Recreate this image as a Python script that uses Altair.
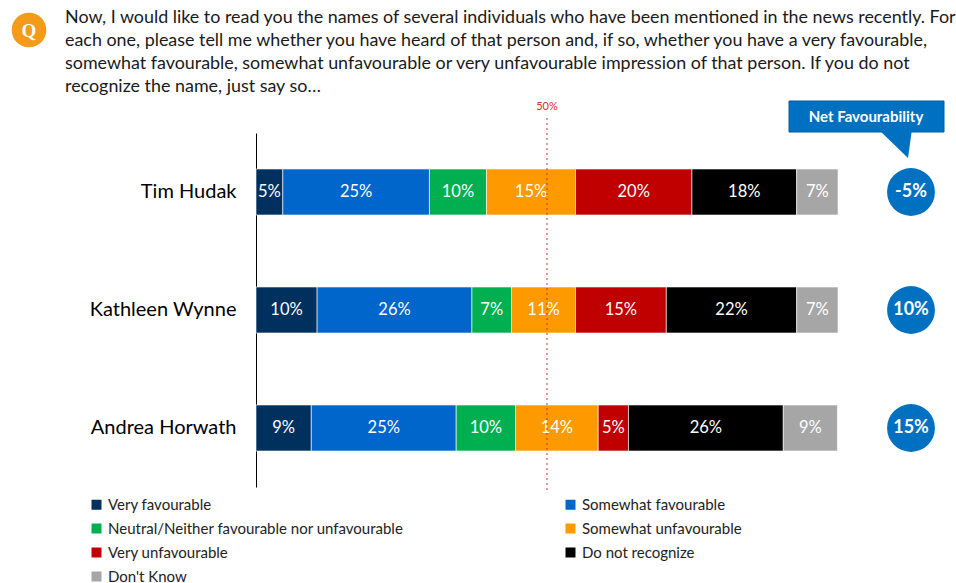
import altair as alt
import pandas as pd

NAMES = ["Tim Hudak", "Kathleen Wynne", "Andrea Horwath"]
CATEGORIES = [
    "Very favourable",
    "Somewhat favourable",
    "Neutral/Neither favourable nor unfavourable",
    "Somewhat unfavourable",
    "Very unfavourable",
    "Do not recognize",
    "Don't Know",
]
COLORS = ["#00305E", "#0066CC", "#00B050", "#FF9900", "#C00000", "#000000", "#A6A6A6"]

# segment widths (percent)
VALUES_HUDAK = [4.6, 25.2, 9.8, 15.3, 20.0, 18.0, 7.1]
VALUES_WYNNE = [10.5, 26.6, 6.8, 11.0, 15.6, 22.4, 7.1]
VALUES_HORWATH = [9.5, 24.9, 10.2, 14.2, 5.2, 26.6, 9.3]
# printed labels
LABELS_HUDAK = [5, 25, 10, 15, 20, 18, 7]
LABELS_WYNNE = [10, 26, 7, 11, 15, 22, 7]
LABELS_HORWATH = [9, 25, 10, 14, 5, 26, 9]

NET_FAV = [-5, 10, 15]

QUESTION = [
    "Now, I would like to read you the names of several individuals who have been mentioned in the news recently. For",
    "each one, please tell me whether you have heard of that person and, if so, whether you have a very favourable,",
    "somewhat favourable, somewhat unfavourable or very unfavourable impression of that person. If you do not",
    "recognize the name, just say so\u2026",
]

FONT = "Lato"
RED = "#E0282B"
BLUE = "#0070C0"

rows = []
for name, vals, labs in zip(NAMES, [VALUES_HUDAK, VALUES_WYNNE, VALUES_HORWATH],
                            [LABELS_HUDAK, LABELS_WYNNE, LABELS_HORWATH]):
    for i, (cat, v, lab) in enumerate(zip(CATEGORIES, vals, labs)):
        rows.append({"name": name, "category": cat, "order": i, "value": v, "label": f"{lab}%"})
df = pd.DataFrame(rows)

net_df = pd.DataFrame({"name": NAMES, "net": [f"{n}%" for n in NET_FAV]})
one = pd.DataFrame({"a": [0]})

xscale = alt.Scale(domain=[0, 100], nice=False, zero=True)
yscale = alt.Scale(domain=NAMES, paddingInner=0.61, paddingOuter=0.305)

base = alt.Chart(df).transform_stack(
    stack="value", as_=["v0", "v1"], groupby=["name"], sort=[alt.SortField("order")]
)

bars = base.mark_bar(stroke="white", strokeWidth=0.6).encode(
    x=alt.X("v0:Q", scale=xscale, axis=None),
    x2="v1:Q",
    y=alt.Y("name:N", scale=yscale, sort=NAMES,
            axis=alt.Axis(title=None, ticks=False, domainColor="black", domainWidth=1,
                          labelFont=FONT, labelFontSize=20, labelColor="black",
                          labelPadding=20, grid=False)),
    color=alt.Color("category:N", scale=alt.Scale(domain=CATEGORIES, range=COLORS),
                    legend=alt.Legend(title=None, orient="none", legendX=-167, legendY=364,
                                      direction="horizontal",
                                      columns=2, columnPadding=159, rowPadding=8,
                                      symbolType="square", symbolSize=100, symbolStrokeWidth=0,
                                      labelFont=FONT, labelFontSize=15, labelColor="#222222",
                                      labelOffset=4, padding=0, labelLimit=400)),
)

seg_text = base.transform_calculate(mid="(datum.v0 + datum.v1) / 2").mark_text(
    font=FONT, fontSize=16.5, color="white", baseline="middle"
).encode(
    x=alt.X("mid:Q", scale=xscale, axis=None),
    y=alt.Y("name:N", scale=yscale, sort=NAMES),
    text="label:N",
)

mid_rule = alt.Chart(one).mark_rule(color=RED, strokeDash=[2, 3], strokeWidth=1).encode(
    x=alt.datum(50), y=alt.value(-15), y2=alt.value(357)
)
mid_label = alt.Chart(one).mark_text(text="50%", font=FONT, fontSize=11, color=RED).encode(
    x=alt.datum(50), y=alt.value(-26)
)

circles = alt.Chart(net_df).mark_circle(size=2290, color=BLUE, opacity=1).encode(
    x=alt.value(655), y=alt.Y("name:N", scale=yscale, sort=NAMES)
)
circle_text = alt.Chart(net_df).mark_text(font=FONT, fontSize=18, fontWeight="bold",
                                          color="white", baseline="middle").encode(
    x=alt.value(655), y=alt.Y("name:N", scale=yscale, sort=NAMES), text="net:N"
)

callout_box = alt.Chart(one).mark_rect(color=BLUE, stroke="#005C9E", strokeWidth=1).encode(
    x=alt.value(533), x2=alt.value(688), y=alt.value(-32), y2=alt.value(-1)
)
callout_tip = alt.Chart(one).mark_point(
    shape="M -0.85 -0.8 L 0.85 -0.8 L 0.65 0.65 Z", filled=True, color=BLUE,
    size=1600, opacity=1, strokeWidth=0
).encode(x=alt.value(639), y=alt.value(12))
callout_text = alt.Chart(one).mark_text(text="Net Favourability", font=FONT, fontSize=15,
                                        fontWeight="bold", color="white", baseline="middle").encode(
    x=alt.value(610), y=alt.value(-16)
)

q_circle = alt.Chart(one).mark_circle(size=1200, color="#F59B1A", opacity=1).encode(
    x=alt.value(-227), y=alt.value(-103)
)
q_text = alt.Chart(one).mark_text(text="Q", font="Liberation Serif", fontSize=19,
                                  fontWeight="bold", color="white", baseline="middle").encode(
    x=alt.value(-227), y=alt.value(-102)
)
question = alt.Chart(one).mark_text(text=QUESTION, font=FONT, fontSize=17.9, color="#1a1a1a",
                                    align="left", baseline="alphabetic", lineHeight=23).encode(
    x=alt.value(-191), y=alt.value(-110)
)

chart = alt.layer(
    bars, seg_text, mid_rule, mid_label, circles, circle_text,
    callout_box, callout_tip, callout_text, q_circle, q_text, question
).properties(
    width=582, height=354, autosize="none",
    padding={"left": 256, "top": 133, "right": 118, "bottom": 96},
    background="white",
).configure_view(stroke=None)

chart.save("out.html", embed_options={"renderer": "svg", "actions": False})
